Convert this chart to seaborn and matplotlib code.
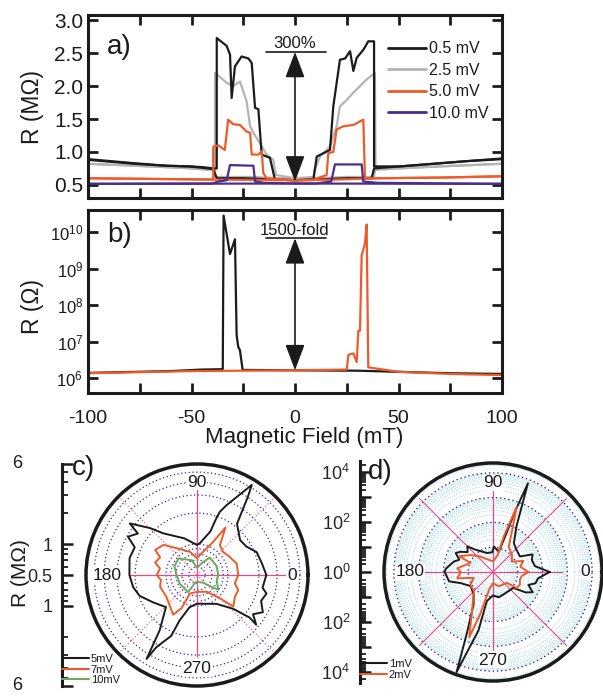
import numpy as np
import matplotlib
matplotlib.use("Agg")
import matplotlib.pyplot as plt
from matplotlib.ticker import LogLocator, NullLocator, NullFormatter
from matplotlib.lines import Line2D
import seaborn as sns

# ---------------- panel a : R (MOhm) vs field, two sweeps per bias ----------------
a_black_dn_x = [-100, -78, -62, -51, -45, -39.5, -37.8, -37.8, -33.0, -31.4, -30.6, -29.0, -25.8, -22.5,
                -20.9, -19.3, -17.7, -16.1, -12.1, -9.7, 0, 10, 25, 37, 38.2, 50.7, 67, 83, 100]
a_black_dn_r = [0.89, 0.83, 0.79, 0.78, 0.77, 0.75, 0.75, 2.73, 2.61, 2.48, 1.82, 2.30, 2.45, 2.42,
                2.35, 1.67, 1.65, 0.96, 0.91, 0.58, 0.57, 0.58, 0.60, 0.60, 0.75, 0.78, 0.82, 0.86, 0.90]
a_black_up_x = [-100, -78, -62, -51, -39.5, -37.8, -25, -10, 0, 8.9, 10.5, 16.9, 18.5, 21.7, 24.2, 26.6,
                28.2, 29.8, 33.0, 35.4, 37.0, 38.2, 38.2, 50.7, 67, 83, 100]
a_black_up_r = [0.88, 0.82, 0.79, 0.78, 0.74, 0.60, 0.60, 0.58, 0.57, 0.58, 0.93, 1.03, 1.69, 2.40, 2.42, 2.53,
                2.23, 2.43, 2.55, 2.68, 2.68, 2.68, 0.78, 0.78, 0.82, 0.86, 0.89]

a_gray_dn_x = [-100, -70, -50, -38.6, -38.6, -33.0, -29.8, -26.6, -23.4, -21.7, -20.1, -16.9, -13.7, -10.5,
               -9.2, 0, 10, 25, 38.0, 38.9, 50, 70, 100]
a_gray_dn_r = [0.82, 0.78, 0.75, 0.72, 2.20, 2.05, 2.00, 2.07, 1.77, 1.39, 1.29, 1.13, 0.96, 0.88,
               0.65, 0.60, 0.60, 0.62, 0.62, 0.73, 0.75, 0.78, 0.82]
a_gray_up_x = [-100, -70, -50, -38.6, -38.6, -20, -9, 0, 8.9, 9.5, 12.1, 16.9, 20.1, 21.7, 25.0, 28.2,
               31.4, 34.6, 38.6, 38.9, 50, 70, 100]
a_gray_up_r = [0.82, 0.78, 0.75, 0.72, 0.62, 0.62, 0.60, 0.60, 0.62, 0.73, 0.93, 1.08, 1.39, 1.69, 1.79, 1.90,
               2.00, 2.10, 2.20, 0.73, 0.75, 0.78, 0.82]

a_orange_dn_x = [-100, -70, -39.5, -39.5, -37.1, -33.9, -32.3, -29.8, -26.6, -23.4, -21.7, -20.9, -17.7,
                 -16.1, -15.3, -13.7, 0, 20, 40, 70, 100]
a_orange_dn_r = [0.60, 0.59, 0.58, 1.08, 1.10, 1.03, 1.49, 1.42, 1.41, 1.31, 1.29, 0.96, 0.96,
                 1.01, 0.68, 0.60, 0.57, 0.58, 0.60, 0.61, 0.63]
a_orange_up_x = [-100, -70, -40, 0, 8.1, 15.3, 16.1, 18.5, 20.1, 23.4, 28.2, 33.0, 33.8, 40, 70, 100]
a_orange_up_r = [0.60, 0.59, 0.58, 0.57, 0.57, 0.65, 0.98, 1.00, 1.34, 1.39, 1.41, 1.49, 0.60, 0.60, 0.61, 0.63]

a_purple_dn_x = [-100, -40, -37.1, -33.0, -31.4, -20.1, -19.3, -15, 0, 100]
a_purple_dn_r = [0.515, 0.52, 0.55, 0.57, 0.80, 0.79, 0.55, 0.53, 0.52, 0.515]
a_purple_up_x = [-100, 0, 10, 17.5, 19.3, 32.2, 33.0, 40, 100]
a_purple_up_r = [0.515, 0.52, 0.52, 0.55, 0.81, 0.81, 0.55, 0.53, 0.515]

a_labels = ["0.5 mV", "2.5 mV", "5.0 mV", "10.0 mV"]

# ---------------- panel b : R (Ohm), log scale ----------------
b_black_x = [-100, -60, -45, -34.9, -34.5, -31.4, -29.0, -28.2, -27.4, -26.6, -25.3, 0, 30, 50, 75, 100]
b_black_r = [1.41e6, 1.58e6, 1.74e6, 1.78e6, 2.8e10, 2.5e9, 6.3e9, 1.5e7, 7.2e6, 5.9e6, 1.7e6,
             1.66e6, 1.62e6, 1.51e6, 1.38e6, 1.32e6]
b_orange_x = [-100, -50, 0, 25, 25.8, 28.2, 29.8, 30.6, 31.4, 32.2, 33.8, 34.6, 35.4, 50, 75, 100]
b_orange_r = [1.38e6, 1.58e6, 1.66e6, 1.74e6, 4.4e6, 4.8e6, 2.8e6, 2.0e7, 2.0e7, 2.3e9, 4.8e9, 1.6e10,
              2.0e6, 1.51e6, 1.32e6, 1.23e6]

# ---------------- panel c : polar, R (MOhm) ----------------
c_black_deg = [0, 10, 21, 30, 39, 52, 57, 58.7, 67, 70, 71, 73, 85, 90, 109, 129, 135, 142.5, 145, 151,
               156, 166, 180, 191, 200, 212, 226, 236, 239, 240.6, 247, 249, 257, 270, 304, 317, 321, 320,
               325, 330.5, 338, 345, 349, 360]
c_black_r = [2.36, 2.19, 2.09, 1.79, 1.73, 2.14, 4.07, 5.3, 2.74, 2.27, 2.0, 1.38, 1.02, 0.98, 1.19, 1.66,
             2.21, 3.33, 2.52, 2.93, 2.3, 2.37, 2.27, 2.14, 1.96, 1.59, 1.36, 2.23, 4.48, 3.2, 2.2, 1.49,
             1.05, 0.95, 1.09, 1.52, 2.27, 2.82, 2.31, 2.72, 2.35, 2.5, 2.23, 2.36]
c_orange_deg = [0, 16, 30, 41.5, 52.5, 59, 65, 75, 90, 107, 127, 138, 149, 154.5, 163.6, 170, 180, 188,
                197.5, 215.5, 239, 245, 249, 270, 300, 314.6, 319, 330, 340, 347.6, 360]
c_orange_r = [1.26, 1.26, 1.15, 1.09, 1.16, 1.73, 1.09, 0.86, 0.73, 0.86, 1.06, 1.37, 1.49, 1.25, 1.33,
              1.16, 1.23, 1.13, 1.19, 1.16, 1.41, 1.14, 0.78, 0.73, 0.77, 1.04, 1.47, 1.33, 1.34, 1.19, 1.26]
c_green_deg = [0, 24.6, 53.7, 64.6, 90, 109.6, 138, 159, 180, 206, 242.5, 256, 270, 307, 325, 345.7, 360]
c_green_r = [0.805, 0.81, 0.81, 0.69, 0.59, 0.71, 0.87, 0.86, 0.79, 0.77, 0.77, 0.6, 0.58, 0.62, 0.89,
             0.79, 0.805]
c_labels = ["5mV", "7mV", "10mV"]

# ---------------- panel d : polar, R (log) ----------------
d_black_deg = [0, 8, 17, 24, 30, 43, 54, 63, 68.5, 70, 71, 74, 88, 92, 107, 128, 135, 142, 148, 153, 160,
               165, 176, 180, 192, 199, 212, 229, 239, 247, 250, 256, 258, 270, 283, 295, 322, 328, 333,
               340, 345, 352, 360]
d_black_r = [195, 51, 44, 56, 18, 20, 27, 126, 7080, 400, 40, 7.1, 10.7, 6.3, 6.3, 13.8, 29, 20, 35, 49,
             28, 43, 81, 89, 65, 24, 11.7, 15.5, 33, 525, 20000, 275, 15.8, 8.9, 11.2, 10, 11, 36, 63,
             33, 59, 69, 195]
d_orange_deg = [0, 11, 20, 29, 42, 58, 65, 70, 73, 75, 90, 109, 129, 143, 155, 158, 174, 180, 190, 197,
                209, 225, 240, 250, 253, 258, 270, 292, 322, 326, 335, 344, 352, 360]
d_orange_r = [27, 13.2, 20, 7.4, 10.7, 15.8, 63, 630, 35, 4.7, 2.7, 3.3, 6.3, 13.8, 32, 9.5, 28, 20, 29,
              6.5, 11, 12.3, 47, 630, 63, 5, 2.8, 4.2, 5.1, 14.5, 15.8, 13.5, 14.8, 27]
d_labels = ["1mV", "2mV"]

BLACK = "#1b1b1b"
GRAY = "#b4b4b4"
ORANGE = "#f05a28"
PURPLE = "#4a2d8c"
GREEN = "#6aab5a"
PINK = "#e64a8a"
DBLUE = "#3526a0"
LBLUE = "#9ad6e6"

sns.set_theme(style="ticks")
plt.rcParams['font.family'] = ['Liberation Sans', 'DejaVu Sans']
plt.rcParams['mathtext.fontset'] = 'custom'
plt.rcParams['mathtext.rm'] = 'Liberation Sans'
plt.rcParams['text.color'] = BLACK

W, H = 603, 696
fig = plt.figure(figsize=(W / 100, H / 100), dpi=100)
fig.patch.set_facecolor("white")


def box_style(ax):
    for s in ax.spines.values():
        s.set_linewidth(2.2)
        s.set_color(BLACK)
    ax.set_xlim(-100, 100)
    ax.set_xticks([-100, -50, 0, 50, 100])
    ax.set_xticks([-75, -25, 25, 75], minor=True)
    ax.tick_params(which='both', direction='in', top=True, right=True, width=2, length=7,
                   color=BLACK, labelcolor=BLACK)
    ax.set_xlabel("")
    ax.set_ylabel("")


# ---- a ----
ax_a = fig.add_axes([88 / W, 1 - 198 / H, 414 / W, 183 / H])
a_traces = [(a_gray_dn_x, a_gray_dn_r, GRAY), (a_gray_up_x, a_gray_up_r, GRAY),
            (a_black_dn_x, a_black_dn_r, BLACK), (a_black_up_x, a_black_up_r, BLACK),
            (a_orange_dn_x, a_orange_dn_r, ORANGE), (a_orange_up_x, a_orange_up_r, ORANGE),
            (a_purple_dn_x, a_purple_dn_r, PURPLE), (a_purple_up_x, a_purple_up_r, PURPLE)]
for x, r, c in a_traces:
    sns.lineplot(x=x, y=r, ax=ax_a, color=c, lw=1.6, sort=False, estimator=None)
box_style(ax_a)
ax_a.set_ylim(0.3, 3.08)
ax_a.set_yticks([0.5, 1.0, 1.5, 2.0, 2.5, 3.0])
ax_a.set_yticklabels(["0.5", "1.0", "1.5", "2.0", "2.5", "3.0"], fontsize=15)
ax_a.set_xticklabels([])
handles = [Line2D([], [], color=c, lw=2) for c in (BLACK, GRAY, ORANGE, PURPLE)]
ax_a.legend(handles, a_labels, loc='upper left', bbox_to_anchor=(0.725, 0.856), frameon=False,
            fontsize=11.5, handlelength=2.4, handletextpad=0.15, labelspacing=0.4,
            borderpad=0, borderaxespad=0)
ax_a.text(0, 2.65, "300%", ha='center', va='center', fontsize=12)
ax_a.plot([-14, 15], [2.52, 2.52], color=BLACK, lw=1.2)
ax_a.annotate('', xy=(0, 0.55), xytext=(0, 2.52),
              arrowprops=dict(arrowstyle='<|-|>,head_length=0.8,head_width=0.3', mutation_scale=20,
                              color=BLACK, lw=1.2, shrinkA=0, shrinkB=0))
ax_a.text(0.046, 0.825, "a)", transform=ax_a.transAxes, fontsize=20, va='center')

# ---- b ----
ax_b = fig.add_axes([88 / W, 1 - 393 / H, 414 / W, 183 / H])
sns.lineplot(x=b_black_x, y=b_black_r, ax=ax_b, color=BLACK, lw=1.6, sort=False, estimator=None)
sns.lineplot(x=b_orange_x, y=b_orange_r, ax=ax_b, color=ORANGE, lw=1.6, sort=False, estimator=None)
ax_b.set_yscale('log')
box_style(ax_b)
ax_b.set_ylim(10 ** 5.6, 10 ** 10.6)
ax_b.set_yticks([1e6, 1e7, 1e8, 1e9, 1e10])
ax_b.yaxis.set_minor_locator(NullLocator())
ax_b.set_yticklabels([r"$\mathregular{10^{%d}}$" % e for e in range(6, 11)], fontsize=12)
ax_b.set_xticklabels(["-100", "-50", "0", "50", "100"], fontsize=14)
ax_b.tick_params(axis='x', pad=12)
ax_b.text(0, 10 ** 10.05, "1500-fold", ha='center', va='center', fontsize=12)
ax_b.plot([-14, 15], [10 ** 9.83, 10 ** 9.83], color=BLACK, lw=1.2)
ax_b.annotate('', xy=(0, 10 ** 6.22), xytext=(0, 10 ** 9.83),
              arrowprops=dict(arrowstyle='<|-|>,head_length=0.8,head_width=0.3', mutation_scale=20,
                              color=BLACK, lw=1.2, shrinkA=0, shrinkB=0))
ax_b.text(0.046, 0.863, "b)", transform=ax_b.transAxes, fontsize=20, va='center')

fig.text(304 / W, 1 - 437 / H, "Magnetic Field (mT)", ha='center', va='center', fontsize=16)
fig.text(32 / W, 1 - 107 / H, "R (MΩ)", rotation=90, ha='center', va='center', fontsize=16.5)
fig.text(32 / W, 1 - 307 / H, "R (Ω)", rotation=90, ha='center', va='center', fontsize=16.5)


# ---- polar panels ----
def polar_frame(rect, rmin, rmax):
    ax = fig.add_axes(rect, projection='polar')
    ax.set_rscale('log')
    ax.set_rlim(rmin, rmax)
    ax.set_xticks(np.deg2rad([0, 90, 180, 270]))
    ax.set_xticks(np.deg2rad([45, 135, 225, 315]), minor=True)
    ax.set_xticklabels([])
    ax.tick_params(axis='x', which='major', direction='inout', length=12, width=2.5, color=BLACK)
    ax.tick_params(axis='x', which='minor', direction='in', length=8, width=2.5, color=BLACK)
    ax.xaxis.grid(False)
    ax.tick_params(axis='y', which='both', length=0)
    ax.yaxis.set_major_formatter(NullFormatter())
    ax.yaxis.set_minor_formatter(NullFormatter())
    ax.spines['polar'].set_linewidth(2.5)
    ax.spines['polar'].set_color(BLACK)
    ax.set_facecolor('white')
    return ax


def spokes(ax, rmin, solid_ends, diag_end, diag_ls):
    for deg, rend in zip([0, 90, 180, 270], solid_ends):
        ax.plot([np.deg2rad(deg)] * 2, [rmin, rend], color=PINK, lw=0.9, zorder=1)
    for deg in [45, 135, 225, 315]:
        ax.plot([np.deg2rad(deg)] * 2, [rmin, diag_end], color=PINK, lw=0.8, ls=diag_ls, zorder=1)


def angle_labels(ax, radii):
    for deg, r, txt in zip([0, 90, 180, 270], radii, ["0", "90", "180", "270"]):
        ax.text(np.deg2rad(deg), r, txt, ha='center', va='center', fontsize=12.5, zorder=5,
                bbox=dict(fc='white', ec='none', pad=0.5))


def radial_bar(x_px, cy_px, half_px, rmin, rmax, top_major, top_labels, bot_major, bot_labels, minor):
    top = fig.add_axes([x_px / W, 1 - cy_px / H, 0.0005, half_px / H])
    bot = fig.add_axes([x_px / W, 1 - (cy_px + half_px) / H, 0.0005, half_px / H])
    for ax, lims, maj, labs in ((top, (rmin, rmax), top_major, top_labels),
                                (bot, (rmax, rmin), bot_major, bot_labels)):
        ax.set_yscale('log')
        ax.set_ylim(*lims)
        ax.set_xticks([])
        for s in ('top', 'right', 'bottom'):
            ax.spines[s].set_visible(False)
        ax.spines['left'].set_linewidth(2.2)
        ax.spines['left'].set_color(BLACK)
        ax.patch.set_alpha(0)
        ax.set_yticks(maj)
        ax.set_yticklabels(labs)
        ax.set_yticks(minor, minor=True)
        ax.yaxis.set_minor_formatter(NullFormatter())
        ax.tick_params(axis='y', which='major', direction='in', length=8, width=1.8,
                       labelsize=13, pad=7, color=BLACK)
        ax.tick_params(axis='y', which='minor', direction='in', length=4.5, width=1.3, color=BLACK)


# c
c_rmin, c_rmax = 0.5, 6
ax_c = polar_frame([86 / W, 1 - 686 / H, 222 / W, 222 / H], c_rmin, c_rmax)
ax_c.set_yticks([0.6, 0.7, 0.8, 0.9, 1, 2, 3, 4, 5])
ax_c.yaxis.set_minor_locator(NullLocator())
ax_c.yaxis.set_major_formatter(NullFormatter())
ax_c.yaxis.grid(True, which='major', color=DBLUE, ls=(0, (1, 2)), lw=0.9)
spokes(ax_c, c_rmin, [3.8, 3.73, 2.26, 3.1], 5.6, (0, (1, 2)))
for deg, r, c in [(c_black_deg, c_black_r, BLACK), (c_orange_deg, c_orange_r, ORANGE),
                  (c_green_deg, c_green_r, GREEN)]:
    ax_c.plot(np.deg2rad(deg), r, color=c, lw=1.4, zorder=3)
angle_labels(ax_c, [4.19, 4.0, 3.75, 4.1])
radial_bar(62, 575, 111, c_rmin, c_rmax, [0.5, 1, 6], ["0.5", "1", ""], [1, 6], ["1", ""],
           [0.6, 0.7, 0.8, 0.9, 2, 3, 4, 5])
fig.text(17 / W, 1 - 464 / H, "6", ha='center', va='center', fontsize=13)
fig.text(17 / W, 1 - 686 / H, "6", ha='center', va='center', fontsize=13)
fig.text(72 / W, 1 - 468 / H, "c)", fontsize=20, va='center')
fig.text(20 / W, 1 - 573 / H, "R (MΩ)", rotation=90, ha='center', va='center', fontsize=15)
fig.legend([Line2D([], [], color=c, lw=1.5) for c in (BLACK, ORANGE, GREEN)], c_labels,
           loc='upper left', bbox_to_anchor=(62 / W, 1 - 654 / H), frameon=False, fontsize=8,
           handlelength=2.4, handletextpad=0.2, labelspacing=0.05, borderpad=0, borderaxespad=0)

# d
d_rmin, d_rmax = 1, 10 ** 4.4
ax_d = polar_frame([384 / W, 1 - 681 / H, 218 / W, 218 / H], d_rmin, d_rmax)
ax_d.set_yticks([10, 100, 1000, 10000])
ax_d.yaxis.set_minor_locator(LogLocator(base=10, subs=np.arange(2, 10)))
ax_d.yaxis.set_major_formatter(NullFormatter())
ax_d.yaxis.set_minor_formatter(NullFormatter())
ax_d.yaxis.grid(True, which='minor', color=LBLUE, ls=(0, (1, 1.5)), lw=0.7)
ax_d.yaxis.grid(True, which='major', color=DBLUE, ls=(0, (1, 2)), lw=1.0)
spokes(ax_d, d_rmin, [10 ** 2.77, 10 ** 3.27, 10 ** 2.83, 10 ** 3.13], 10 ** 4.2, '-')
for deg, r, c in [(d_black_deg, d_black_r, BLACK), (d_orange_deg, d_orange_r, ORANGE)]:
    ax_d.plot(np.deg2rad(deg), r, color=c, lw=1.4, zorder=3)
angle_labels(ax_d, [10 ** 3.72, 10 ** 3.6, 10 ** 3.36, 10 ** 3.56])
radial_bar(360, 572, 111, d_rmin, 10 ** 4.45,
           [1, 10, 100, 1000, 10000],
           [r"$\mathregular{10^{0}}$", "", r"$\mathregular{10^{2}}$", "", r"$\mathregular{10^{4}}$"],
           [10, 100, 1000, 10000], ["", r"$\mathregular{10^{2}}$", "", r"$\mathregular{10^{4}}$"],
           [m * 10 ** e for e in range(0, 5) for m in range(2, 10) if m * 10 ** e < 10 ** 4.45])
fig.text(368 / W, 1 - 472 / H, "d)", fontsize=20, va='center')
fig.legend([Line2D([], [], color=c, lw=1.5) for c in (BLACK, ORANGE)], d_labels,
           loc='upper left', bbox_to_anchor=(360 / W, 1 - 659 / H), frameon=False, fontsize=8,
           handlelength=2.4, handletextpad=0.2, labelspacing=0.05, borderpad=0, borderaxespad=0)

fig.savefig("out.png", dpi=100, facecolor="white")
